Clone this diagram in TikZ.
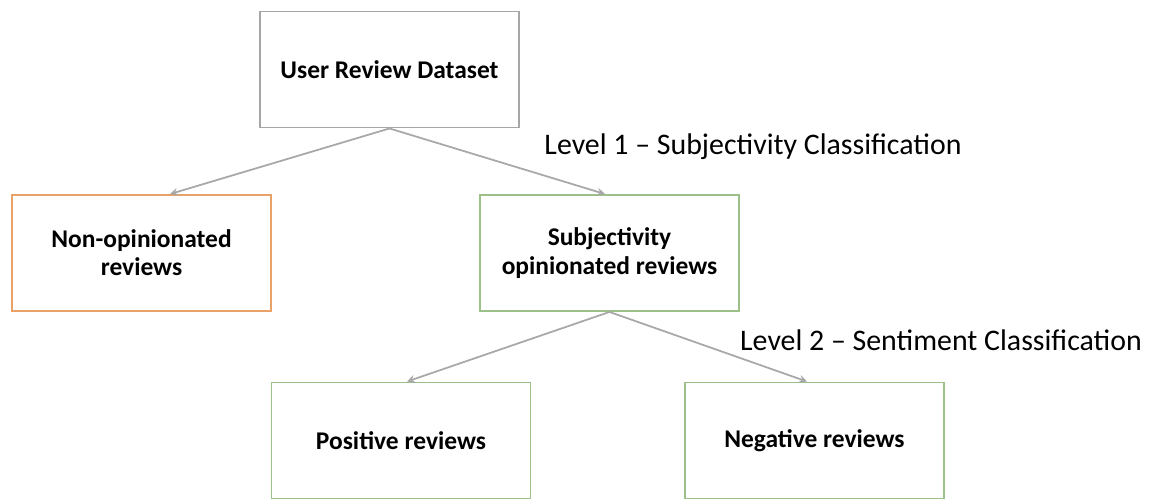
\documentclass[tikz,border=0pt]{standalone}
\usepackage{fontspec}
\setmainfont{Carlito}
\definecolor{boxgray}{HTML}{A6A6A6}
\definecolor{boxorange}{HTML}{E8A268}
\definecolor{boxgreen}{HTML}{9CC08A}
\definecolor{arrowgray}{HTML}{A8A8A8}
\tikzset{
    box/.style={draw=#1, line width=1.1pt, minimum width=5.18cm, minimum height=2.32cm,
        align=center, font=\fontsize{14.5}{16}\selectfont\bfseries, inner sep=2pt},
    link/.style={draw=arrowgray, line width=1pt, -stealth},
    level/.style={font=\fontsize{17}{20}\selectfont}
}

\begin{document}
\begin{tikzpicture}[x=0.02cm, y=-0.02cm]
    \useasboundingbox (0,0) rectangle (1154,501);
    % boxes
    \node[box=boxgray] (user) at (389.5,69.5) {User Review Dataset};
    \node[box=boxorange] (nonop) at (141.5,253) {Non-opinionated\\reviews};
    \node[box=boxgreen] (subj) at (609.5,253) {Subjectivity\\opinionated reviews};
    \node[box=boxgreen] (pos) at (401,440.5) {Positive reviews};
    \node[box=boxgreen] (neg) at (814.5,440.5) {Negative reviews};
    % level labels
    \node[level] (lvlone) at (753,147) {Level 1 -- Subjectivity Classification};
    \node[level] (lvltwo) at (941,340) {Level 2 -- Sentiment Classification};
    % arrows
    \draw[link] (user.south) -- ([xshift=0.57cm]nonop.north);
    \draw[link] (user.south) -- ([xshift=-0.09cm]subj.north);
    \draw[link] (subj.south) -- ([xshift=0.12cm]pos.north);
    \draw[link] (subj.south) -- ([xshift=-0.15cm]neg.north);
\end{tikzpicture}
\end{document}
